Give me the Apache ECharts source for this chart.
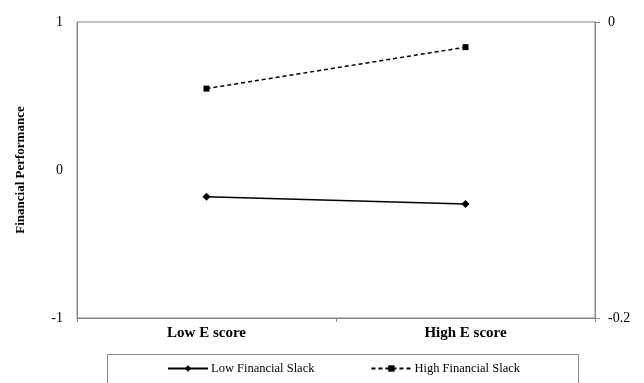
<!DOCTYPE html>
<html>
<head>
<meta charset="utf-8">
<script src="https://cdn.jsdelivr.net/npm/echarts@6/dist/echarts.min.js"></script>
<style>html,body{margin:0;padding:0;background:#fff}#c{width:644px;height:383px}</style>
</head>
<body>
<div id="c"></div>
<script>
var categories = ['Low E score', 'High E score'];
var lowSlack = [-0.18, -0.23];
var highSlack = [0.55, 0.83];
var leftTicks = [-1, 0, 1];
var rightTicks = [-0.2, 0];

var chart = echarts.init(document.getElementById('c'), null, {renderer: 'canvas'});
var serif = '"Liberation Serif", "DejaVu Serif", serif';
var axisGray = '#868686';
chart.setOption({
  animation: false,
  backgroundColor: '#fff',
  textStyle: {fontFamily: serif, color: '#000'},
  grid: {left: 77, right: 49, top: 22, bottom: 65, show: true, borderColor: axisGray, borderWidth: 1},
  xAxis: {
    type: 'category', data: categories, boundaryGap: true,
    axisLine: {onZero: false, lineStyle: {color: axisGray, width: 1}},
    axisTick: {show: true, length: 4, lineStyle: {color: axisGray}},
    axisLabel: {color: '#000', fontFamily: serif, fontWeight: 'bold', fontSize: 15, margin: 8}
  },
  yAxis: [{
    type: 'value', min: leftTicks[0], max: leftTicks[leftTicks.length - 1], interval: 1,
    name: 'Financial Performance', nameLocation: 'middle', nameRotate: 90, nameGap: 50,
    nameTextStyle: {fontFamily: serif, fontWeight: 'bold', fontSize: 13, color: '#000'},
    axisLine: {show: true, lineStyle: {color: axisGray, width: 1}},
    axisTick: {show: false},
    splitLine: {show: false},
    axisLabel: {color: '#000', fontFamily: serif, fontSize: 14, margin: 14}
  }, {
    type: 'value', position: 'right', min: rightTicks[0], max: rightTicks[rightTicks.length - 1], interval: 0.2,
    axisLine: {show: true, lineStyle: {color: axisGray, width: 1}},
    axisTick: {show: true, length: 5, lineStyle: {color: axisGray}},
    splitLine: {show: false},
    axisLabel: {color: '#000', fontFamily: serif, fontSize: 14, margin: 13}
  }],
  legend: {
    left: 167, top: 362, padding: 0, itemWidth: 40, itemHeight: 8, itemGap: 56,
    textStyle: {fontFamily: serif, fontSize: 12.5, color: '#000', padding: [0, 0, 0, -2]},
    data: ['Low Financial Slack', 'High Financial Slack']
  },
  graphic: [{
    type: 'rect', left: 105, top: 352, shape: {width: 471, height: 40},
    style: {fill: 'none', stroke: axisGray, lineWidth: 1}, z: -1
  }],
  series: [{
    name: 'Low Financial Slack', type: 'line', data: lowSlack,
    symbol: 'diamond', symbolSize: 8,
    lineStyle: {color: '#000', width: 1.5}, itemStyle: {color: '#000'}
  }, {
    name: 'High Financial Slack', type: 'line', data: highSlack,
    symbol: 'rect', symbolSize: 6,
    lineStyle: {color: '#000', width: 1.5, type: [4, 3]}, itemStyle: {color: '#000'}
  }]
});
</script>
</body>
</html>
